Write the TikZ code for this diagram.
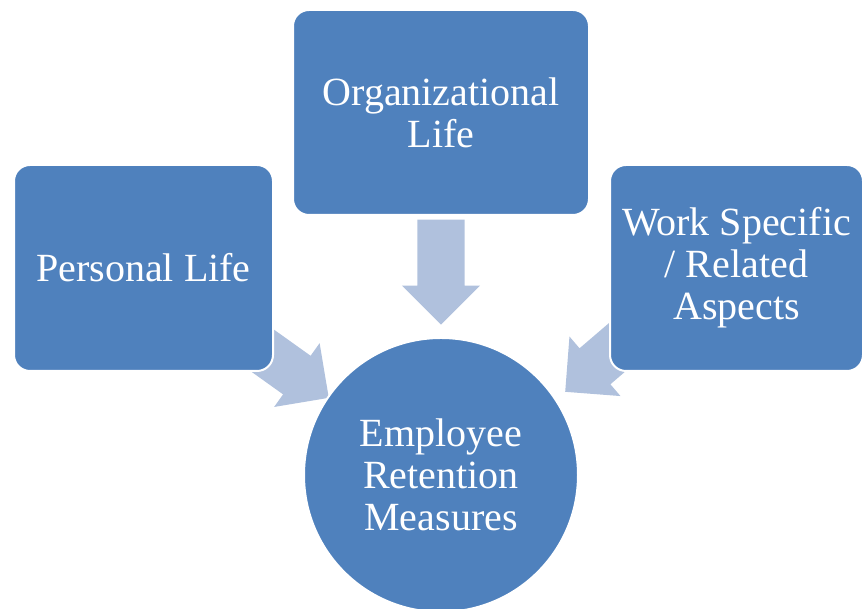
\documentclass[tikz,border=0pt]{standalone}
\usepackage{fontspec}
\setmainfont{Liberation Serif}
\usetikzlibrary{shapes.arrows,backgrounds}
\definecolor{boxblue}{RGB}{79,129,189}
\definecolor{arrowblue}{RGB}{176,193,221}

\begin{document}
\begin{tikzpicture}[x=1pt,y=1pt,
    box/.style={rectangle,rounded corners=16pt,fill=boxblue,draw=white,line width=2pt,
      text=white,align=center,font=\fontsize{40}{42}\selectfont,inner sep=0pt},
    hub/.style={circle,fill=boxblue,draw=white,line width=2pt,text=white,align=center,
      font=\fontsize{40}{42}\selectfont,minimum size=274pt,inner sep=0pt},
    fatarrow/.style={single arrow,fill=arrowblue,draw=none,minimum height=105pt,
      inner xsep=0pt,inner ysep=23.5pt,single arrow head extend=15.5pt,
      single arrow head indent=0pt,anchor=tip}]
   \useasboundingbox (0,0) rectangle (863,609);
   % the three sources and the hub
   \node[box,minimum width=296pt,minimum height=205pt] (org) at (441,496.5) {Organizational\\Life};
   \node[box,minimum width=259pt,minimum height=206pt] (pers) at (143.5,341) {Personal Life};
   \node[box,minimum width=253pt,minimum height=206pt] (work) at (736.5,341) {Work Specific\\/ Related\\Aspects};
   \node[hub] (ret) at (441,134) {Employee\\Retention\\Measures};
   % block arrows behind, placed by their tips
   \begin{pgfonlayer}{background}
       \node[fatarrow,rotate=-90] (orgarr) at (441,284) {};
       \node[fatarrow,rotate=-35.5] (persarr) at (329,211) {};
       \node[fatarrow,rotate=-139.4] (workarr) at (565,217) {};
   \end{pgfonlayer}
\end{tikzpicture}
\end{document}
